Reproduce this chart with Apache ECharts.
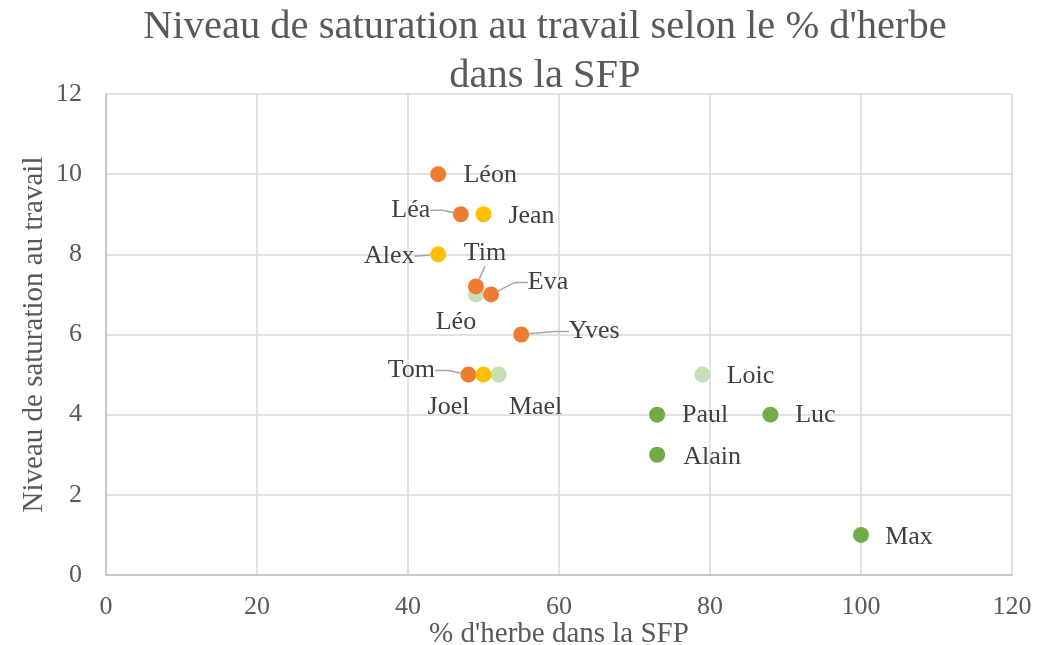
<!DOCTYPE html>
<html>
<head>
<meta charset="utf-8">
<script src="https://cdn.jsdelivr.net/npm/echarts@6/dist/echarts.min.js"></script>
<style>
  html, body { margin: 0; padding: 0; background: #fff; }
  #chart { width: 1038px; height: 645px; }
</style>
</head>
<body>
<div id="chart"></div>
<script>
// data: [% herbe, niveau de saturation, nom]
var orangePoints = [
    [44, 10, 'Léon'],
    [47, 9, 'Léa'],
    [49, 7.2, 'Tim'],
    [51, 7, 'Eva'],
    [55, 6, 'Yves'],
    [48, 5, 'Tom']
];
var yellowPoints = [
    [50, 9, 'Jean'],
    [44, 8, 'Alex'],
    [50, 5, 'Joel']
];
var lightGreenPoints = [
    [49, 7, 'Léo'],
    [52, 5, 'Mael'],
    [79, 5, 'Loic']
];
var greenPoints = [
    [73, 4, 'Paul'],
    [88, 4, 'Luc'],
    [73, 3, 'Alain'],
    [100, 1, 'Max']
];

// label offsets (px, label centre from point centre)
var labelOffsets = {
    'Léon': [52, 1], 'Léa': [-50, -4], 'Jean': [48, 2], 'Alex': [-49, 2],
    'Tim': [9, -33], 'Eva': [57, -12], 'Léo': [-20, 28], 'Yves': [73, -3],
    'Tom': [-57, -4], 'Joel': [-35, 33], 'Mael': [37, 33], 'Loic': [48, 2],
    'Paul': [48, 1], 'Luc': [45, 1], 'Alain': [55, 2], 'Max': [48, 2]
};
// leader lines: name -> length of the first (horizontal) segment
var leaderLines = { 'Léa': 12, 'Alex': 0, 'Tim': 0, 'Eva': 13, 'Yves': 15, 'Tom': 13 };

var serif = '"Liberation Serif", "Times New Roman", serif';

function makeSeries(points, color, z) {
    return {
        type: 'scatter',
        symbolSize: 16,
        z: z,
        itemStyle: { color: color, opacity: 1 },
        data: points.map(function (p) {
            var item = { value: [p[0], p[1]], name: p[2] };
            if (leaderLines[p[2]] !== undefined) {
                item.labelLine = {
                    show: true,
                    smooth: false,
                    length2: leaderLines[p[2]],
                    lineStyle: { color: '#a6a6a6', width: 1.5 }
                };
            }
            return item;
        }),
        label: {
            show: true,
            position: 'inside',
            formatter: '{b}',
            color: '#404040',
            fontFamily: serif,
            fontSize: 26
        },
        labelLayout: function (params) {
            var o = labelOffsets[points[params.dataIndex][2]];
            return { dx: o[0], dy: o[1] };
        }
    };
}

var myChart = echarts.init(document.getElementById('chart'));

var option = {
    animation: false,
    title: {
        text: "Niveau de saturation au travail selon le % d'herbe\ndans la SFP",
        left: 540,
        textAlign: 'center',
        top: -2,
        textStyle: {
            fontFamily: serif,
            fontWeight: 'normal',
            fontSize: 40.5,
            lineHeight: 49,
            color: '#595959'
        }
    },
    grid: {
        left: 106,
        right: 26,
        top: 94,
        bottom: 70,
        outerBoundsMode: 'none'
    },
    xAxis: {
        type: 'value',
        min: 0,
        max: 120,
        interval: 20,
        name: "% d'herbe dans la SFP",
        nameLocation: 'middle',
        nameGap: 45,
        nameMoveOverlap: false,
        nameTextStyle: { fontFamily: serif, fontSize: 29, color: '#595959' },
        axisLine: { show: true, lineStyle: { color: '#bfbfbf', width: 1.5 } },
        axisTick: { show: false },
        axisLabel: { fontFamily: serif, fontSize: 26, color: '#595959', margin: 19 },
        splitLine: { show: true, lineStyle: { color: '#d9d9d9', width: 1.5 } }
    },
    yAxis: {
        type: 'value',
        min: 0,
        max: 12,
        interval: 2,
        name: 'Niveau de saturation au travail',
        nameLocation: 'middle',
        nameGap: 57,
        nameMoveOverlap: false,
        nameTextStyle: { fontFamily: serif, fontSize: 29, color: '#595959' },
        axisLine: { show: true, lineStyle: { color: '#bfbfbf', width: 1.5 } },
        axisTick: { show: false },
        axisLabel: { fontFamily: serif, fontSize: 26, color: '#595959', margin: 24 },
        splitLine: { show: true, lineStyle: { color: '#d9d9d9', width: 1.5 } }
    },
    series: [
        makeSeries(lightGreenPoints, '#c5e0b4', 2),
        makeSeries(orangePoints, '#ed7d31', 3),
        makeSeries(yellowPoints, '#ffc000', 4),
        makeSeries(greenPoints, '#70ad47', 5)
    ]
};

myChart.setOption(option);
</script>
</body>
</html>
